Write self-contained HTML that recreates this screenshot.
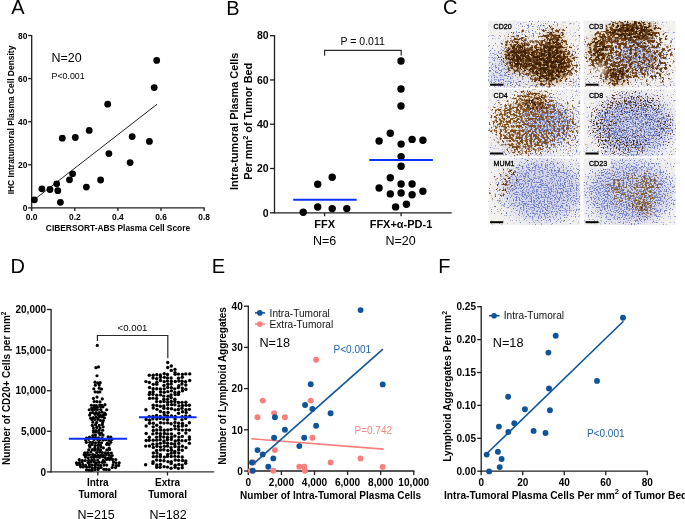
<!DOCTYPE html>
<html><head><meta charset="utf-8"><style>
html,body{margin:0;padding:0;background:#fff;}
svg{display:block;will-change:transform;font-family:"Liberation Sans", sans-serif;}
</style></head><body>
<svg width="685" height="519" viewBox="0 0 685 519">
<rect width="685" height="519" fill="#fff"/>
<defs><clipPath id="cclip"><rect x="488.3" y="20.7" width="92.0" height="66.8"/><rect x="488.3" y="89.5" width="92.0" height="66.8"/><rect x="488.3" y="158.2" width="92.0" height="66.8"/><rect x="583.7" y="20.7" width="92.0" height="66.8"/><rect x="583.7" y="89.5" width="92.0" height="66.8"/><rect x="583.7" y="158.2" width="92.0" height="66.8"/></clipPath><filter id="bf1" filterUnits="userSpaceOnUse" x="473.3" y="5.699999999999999" width="122.0" height="96.8"><feGaussianBlur stdDeviation="7"/></filter><filter id="bf2" filterUnits="userSpaceOnUse" x="473.3" y="5.699999999999999" width="122.0" height="96.8"><feGaussianBlur stdDeviation="4"/></filter><filter id="sf3" filterUnits="userSpaceOnUse" x="473.3" y="5.699999999999999" width="122.0" height="96.8" color-interpolation-filters="sRGB"><feGaussianBlur in="SourceAlpha" stdDeviation="7" result="d"/><feTurbulence type="fractalNoise" baseFrequency="0.68" numOctaves="2" seed="14" result="n"/><feColorMatrix in="n" type="matrix" values="0 0 0 0 0 0 0 0 0 0 0 0 0 0 0 1 0 0 0 0" result="na"/><feComposite in="d" in2="na" operator="arithmetic" k1="0" k2="2.800" k3="7.000" k4="-5.600" result="t"/><feFlood flood-color="#7081ca" result="f"/><feComposite in="f" in2="t" operator="in"/></filter><filter id="sf4" filterUnits="userSpaceOnUse" x="473.3" y="5.699999999999999" width="122.0" height="96.8" color-interpolation-filters="sRGB"><feGaussianBlur in="SourceAlpha" stdDeviation="6" result="d"/><feTurbulence type="fractalNoise" baseFrequency="0.37" numOctaves="2" seed="15" result="n"/><feColorMatrix in="n" type="matrix" values="0 0 0 0 0 0 0 0 0 0 0 0 0 0 0 1 0 0 0 0" result="na"/><feComposite in="d" in2="na" operator="arithmetic" k1="0" k2="2.940" k3="7.000" k4="-5.460" result="t"/><feFlood flood-color="#6c3e14" result="f"/><feComposite in="f" in2="t" operator="in"/></filter><filter id="sf5" filterUnits="userSpaceOnUse" x="473.3" y="5.699999999999999" width="122.0" height="96.8" color-interpolation-filters="sRGB"><feGaussianBlur in="SourceAlpha" stdDeviation="5" result="d"/><feTurbulence type="fractalNoise" baseFrequency="0.41" numOctaves="2" seed="16" result="n"/><feColorMatrix in="n" type="matrix" values="0 0 0 0 0 0 0 0 0 0 0 0 0 0 0 1 0 0 0 0" result="na"/><feComposite in="d" in2="na" operator="arithmetic" k1="0" k2="2.800" k3="7.000" k4="-5.600" result="t"/><feFlood flood-color="#3c2006" result="f"/><feComposite in="f" in2="t" operator="in"/></filter><filter id="bf6" filterUnits="userSpaceOnUse" x="473.3" y="5.699999999999999" width="122.0" height="96.8"><feGaussianBlur stdDeviation="2.5"/></filter><filter id="bf7" filterUnits="userSpaceOnUse" x="568.7" y="5.699999999999999" width="122.0" height="96.8"><feGaussianBlur stdDeviation="7"/></filter><filter id="bf8" filterUnits="userSpaceOnUse" x="568.7" y="5.699999999999999" width="122.0" height="96.8"><feGaussianBlur stdDeviation="4"/></filter><filter id="sf9" filterUnits="userSpaceOnUse" x="568.7" y="5.699999999999999" width="122.0" height="96.8" color-interpolation-filters="sRGB"><feGaussianBlur in="SourceAlpha" stdDeviation="7" result="d"/><feTurbulence type="fractalNoise" baseFrequency="0.68" numOctaves="2" seed="18" result="n"/><feColorMatrix in="n" type="matrix" values="0 0 0 0 0 0 0 0 0 0 0 0 0 0 0 1 0 0 0 0" result="na"/><feComposite in="d" in2="na" operator="arithmetic" k1="0" k2="2.800" k3="7.000" k4="-5.600" result="t"/><feFlood flood-color="#7081ca" result="f"/><feComposite in="f" in2="t" operator="in"/></filter><filter id="sf10" filterUnits="userSpaceOnUse" x="568.7" y="5.699999999999999" width="122.0" height="96.8" color-interpolation-filters="sRGB"><feGaussianBlur in="SourceAlpha" stdDeviation="6" result="d"/><feTurbulence type="fractalNoise" baseFrequency="0.37" numOctaves="2" seed="19" result="n"/><feColorMatrix in="n" type="matrix" values="0 0 0 0 0 0 0 0 0 0 0 0 0 0 0 1 0 0 0 0" result="na"/><feComposite in="d" in2="na" operator="arithmetic" k1="0" k2="2.940" k3="7.000" k4="-5.460" result="t"/><feFlood flood-color="#6c3e14" result="f"/><feComposite in="f" in2="t" operator="in"/></filter><filter id="sf11" filterUnits="userSpaceOnUse" x="568.7" y="5.699999999999999" width="122.0" height="96.8" color-interpolation-filters="sRGB"><feGaussianBlur in="SourceAlpha" stdDeviation="5" result="d"/><feTurbulence type="fractalNoise" baseFrequency="0.41" numOctaves="2" seed="20" result="n"/><feColorMatrix in="n" type="matrix" values="0 0 0 0 0 0 0 0 0 0 0 0 0 0 0 1 0 0 0 0" result="na"/><feComposite in="d" in2="na" operator="arithmetic" k1="0" k2="2.800" k3="7.000" k4="-5.600" result="t"/><feFlood flood-color="#3c2006" result="f"/><feComposite in="f" in2="t" operator="in"/></filter><filter id="bf12" filterUnits="userSpaceOnUse" x="568.7" y="5.699999999999999" width="122.0" height="96.8"><feGaussianBlur stdDeviation="2.5"/></filter><filter id="bf13" filterUnits="userSpaceOnUse" x="473.3" y="74.5" width="122.0" height="96.8"><feGaussianBlur stdDeviation="7"/></filter><filter id="bf14" filterUnits="userSpaceOnUse" x="473.3" y="74.5" width="122.0" height="96.8"><feGaussianBlur stdDeviation="4"/></filter><filter id="sf15" filterUnits="userSpaceOnUse" x="473.3" y="74.5" width="122.0" height="96.8" color-interpolation-filters="sRGB"><feGaussianBlur in="SourceAlpha" stdDeviation="7" result="d"/><feTurbulence type="fractalNoise" baseFrequency="0.68" numOctaves="2" seed="22" result="n"/><feColorMatrix in="n" type="matrix" values="0 0 0 0 0 0 0 0 0 0 0 0 0 0 0 1 0 0 0 0" result="na"/><feComposite in="d" in2="na" operator="arithmetic" k1="0" k2="2.800" k3="7.000" k4="-5.600" result="t"/><feFlood flood-color="#7081ca" result="f"/><feComposite in="f" in2="t" operator="in"/></filter><filter id="sf16" filterUnits="userSpaceOnUse" x="473.3" y="74.5" width="122.0" height="96.8" color-interpolation-filters="sRGB"><feGaussianBlur in="SourceAlpha" stdDeviation="6" result="d"/><feTurbulence type="fractalNoise" baseFrequency="0.43" numOctaves="2" seed="23" result="n"/><feColorMatrix in="n" type="matrix" values="0 0 0 0 0 0 0 0 0 0 0 0 0 0 0 1 0 0 0 0" result="na"/><feComposite in="d" in2="na" operator="arithmetic" k1="0" k2="2.870" k3="7.000" k4="-5.460" result="t"/><feFlood flood-color="#83511f" result="f"/><feComposite in="f" in2="t" operator="in"/></filter><filter id="sf17" filterUnits="userSpaceOnUse" x="473.3" y="74.5" width="122.0" height="96.8" color-interpolation-filters="sRGB"><feGaussianBlur in="SourceAlpha" stdDeviation="5" result="d"/><feTurbulence type="fractalNoise" baseFrequency="0.41" numOctaves="2" seed="24" result="n"/><feColorMatrix in="n" type="matrix" values="0 0 0 0 0 0 0 0 0 0 0 0 0 0 0 1 0 0 0 0" result="na"/><feComposite in="d" in2="na" operator="arithmetic" k1="0" k2="2.800" k3="7.000" k4="-5.600" result="t"/><feFlood flood-color="#3c2006" result="f"/><feComposite in="f" in2="t" operator="in"/></filter><filter id="bf18" filterUnits="userSpaceOnUse" x="473.3" y="74.5" width="122.0" height="96.8"><feGaussianBlur stdDeviation="2.5"/></filter><filter id="bf19" filterUnits="userSpaceOnUse" x="568.7" y="74.5" width="122.0" height="96.8"><feGaussianBlur stdDeviation="7"/></filter><filter id="bf20" filterUnits="userSpaceOnUse" x="568.7" y="74.5" width="122.0" height="96.8"><feGaussianBlur stdDeviation="4"/></filter><filter id="sf21" filterUnits="userSpaceOnUse" x="568.7" y="74.5" width="122.0" height="96.8" color-interpolation-filters="sRGB"><feGaussianBlur in="SourceAlpha" stdDeviation="7" result="d"/><feTurbulence type="fractalNoise" baseFrequency="0.68" numOctaves="2" seed="26" result="n"/><feColorMatrix in="n" type="matrix" values="0 0 0 0 0 0 0 0 0 0 0 0 0 0 0 1 0 0 0 0" result="na"/><feComposite in="d" in2="na" operator="arithmetic" k1="0" k2="2.800" k3="7.000" k4="-5.600" result="t"/><feFlood flood-color="#7081ca" result="f"/><feComposite in="f" in2="t" operator="in"/></filter><filter id="sf22" filterUnits="userSpaceOnUse" x="568.7" y="74.5" width="122.0" height="96.8" color-interpolation-filters="sRGB"><feGaussianBlur in="SourceAlpha" stdDeviation="5" result="d"/><feTurbulence type="fractalNoise" baseFrequency="0.57" numOctaves="2" seed="28" result="n"/><feColorMatrix in="n" type="matrix" values="0 0 0 0 0 0 0 0 0 0 0 0 0 0 0 1 0 0 0 0" result="na"/><feComposite in="d" in2="na" operator="arithmetic" k1="0" k2="2.800" k3="7.000" k4="-5.600" result="t"/><feFlood flood-color="#553016" result="f"/><feComposite in="f" in2="t" operator="in"/></filter><filter id="bf23" filterUnits="userSpaceOnUse" x="568.7" y="74.5" width="122.0" height="96.8"><feGaussianBlur stdDeviation="2.5"/></filter><filter id="bf24" filterUnits="userSpaceOnUse" x="473.3" y="143.2" width="122.0" height="96.8"><feGaussianBlur stdDeviation="7"/></filter><filter id="bf25" filterUnits="userSpaceOnUse" x="473.3" y="143.2" width="122.0" height="96.8"><feGaussianBlur stdDeviation="4"/></filter><filter id="sf26" filterUnits="userSpaceOnUse" x="473.3" y="143.2" width="122.0" height="96.8" color-interpolation-filters="sRGB"><feGaussianBlur in="SourceAlpha" stdDeviation="7" result="d"/><feTurbulence type="fractalNoise" baseFrequency="0.68" numOctaves="2" seed="30" result="n"/><feColorMatrix in="n" type="matrix" values="0 0 0 0 0 0 0 0 0 0 0 0 0 0 0 1 0 0 0 0" result="na"/><feComposite in="d" in2="na" operator="arithmetic" k1="0" k2="2.800" k3="7.000" k4="-5.600" result="t"/><feFlood flood-color="#7081ca" result="f"/><feComposite in="f" in2="t" operator="in"/></filter><filter id="sf27" filterUnits="userSpaceOnUse" x="473.3" y="143.2" width="122.0" height="96.8" color-interpolation-filters="sRGB"><feGaussianBlur in="SourceAlpha" stdDeviation="6" result="d"/><feTurbulence type="fractalNoise" baseFrequency="0.37" numOctaves="2" seed="31" result="n"/><feColorMatrix in="n" type="matrix" values="0 0 0 0 0 0 0 0 0 0 0 0 0 0 0 1 0 0 0 0" result="na"/><feComposite in="d" in2="na" operator="arithmetic" k1="0" k2="2.940" k3="7.000" k4="-5.460" result="t"/><feFlood flood-color="#6c3e14" result="f"/><feComposite in="f" in2="t" operator="in"/></filter><filter id="sf28" filterUnits="userSpaceOnUse" x="473.3" y="143.2" width="122.0" height="96.8" color-interpolation-filters="sRGB"><feGaussianBlur in="SourceAlpha" stdDeviation="5" result="d"/><feTurbulence type="fractalNoise" baseFrequency="0.41" numOctaves="2" seed="32" result="n"/><feColorMatrix in="n" type="matrix" values="0 0 0 0 0 0 0 0 0 0 0 0 0 0 0 1 0 0 0 0" result="na"/><feComposite in="d" in2="na" operator="arithmetic" k1="0" k2="2.800" k3="7.000" k4="-5.600" result="t"/><feFlood flood-color="#3c2006" result="f"/><feComposite in="f" in2="t" operator="in"/></filter><filter id="bf29" filterUnits="userSpaceOnUse" x="568.7" y="143.2" width="122.0" height="96.8"><feGaussianBlur stdDeviation="7"/></filter><filter id="bf30" filterUnits="userSpaceOnUse" x="568.7" y="143.2" width="122.0" height="96.8"><feGaussianBlur stdDeviation="4"/></filter><filter id="sf31" filterUnits="userSpaceOnUse" x="568.7" y="143.2" width="122.0" height="96.8" color-interpolation-filters="sRGB"><feGaussianBlur in="SourceAlpha" stdDeviation="7" result="d"/><feTurbulence type="fractalNoise" baseFrequency="0.68" numOctaves="2" seed="34" result="n"/><feColorMatrix in="n" type="matrix" values="0 0 0 0 0 0 0 0 0 0 0 0 0 0 0 1 0 0 0 0" result="na"/><feComposite in="d" in2="na" operator="arithmetic" k1="0" k2="2.800" k3="7.000" k4="-5.600" result="t"/><feFlood flood-color="#7081ca" result="f"/><feComposite in="f" in2="t" operator="in"/></filter><filter id="sf32" filterUnits="userSpaceOnUse" x="568.7" y="143.2" width="122.0" height="96.8" color-interpolation-filters="sRGB"><feGaussianBlur in="SourceAlpha" stdDeviation="6" result="d"/><feTurbulence type="fractalNoise" baseFrequency="0.44" numOctaves="2" seed="35" result="n"/><feColorMatrix in="n" type="matrix" values="0 0 0 0 0 0 0 0 0 0 0 0 0 0 0 1 0 0 0 0" result="na"/><feComposite in="d" in2="na" operator="arithmetic" k1="0" k2="2.800" k3="7.000" k4="-5.460" result="t"/><feFlood flood-color="#866032" result="f"/><feComposite in="f" in2="t" operator="in"/></filter><filter id="sf33" filterUnits="userSpaceOnUse" x="568.7" y="143.2" width="122.0" height="96.8" color-interpolation-filters="sRGB"><feGaussianBlur in="SourceAlpha" stdDeviation="5" result="d"/><feTurbulence type="fractalNoise" baseFrequency="0.41" numOctaves="2" seed="36" result="n"/><feColorMatrix in="n" type="matrix" values="0 0 0 0 0 0 0 0 0 0 0 0 0 0 0 1 0 0 0 0" result="na"/><feComposite in="d" in2="na" operator="arithmetic" k1="0" k2="2.800" k3="7.000" k4="-5.600" result="t"/><feFlood flood-color="#3c2006" result="f"/><feComposite in="f" in2="t" operator="in"/></filter></defs>
<g clip-path="url(#cclip)">
<rect x="488.3" y="20.7" width="92.0" height="66.8" fill="#f4f2ef"/>
<g filter="url(#bf1)" opacity="1.0"><ellipse cx="498.3" cy="70.7" rx="12" ry="16" fill="#bcc0e4" fill-opacity="0.4"/><ellipse cx="516.3" cy="82.7" rx="18" ry="6" fill="#bcc0e4" fill-opacity="0.35"/></g>
<g filter="url(#bf2)" opacity="0.75"><ellipse cx="518.3" cy="56.7" rx="13" ry="15" fill="#c49a62" fill-opacity="1.0"/><ellipse cx="550.3" cy="62.7" rx="20" ry="20" fill="#c49a62" fill-opacity="1.0"/><ellipse cx="554.3" cy="37.7" rx="9" ry="7" fill="#c49a62" fill-opacity="0.8"/><ellipse cx="541.3" cy="77.7" rx="9" ry="6" fill="#c49a62" fill-opacity="0.8"/><ellipse cx="533.3" cy="62.7" rx="6" ry="12" fill="#c49a62" fill-opacity="0.8"/></g>
<g filter="url(#sf3)"><rect x="488.3" y="20.7" width="92.0" height="66.8" fill="#000" fill-opacity="0"/><rect x="473.3" y="5.7" width="122" height="97" fill="#000" fill-opacity="0.38"/><ellipse cx="498.3" cy="65.7" rx="14" ry="22" fill="#000" fill-opacity="0.5"/><ellipse cx="510.3" cy="80.7" rx="20" ry="8" fill="#000" fill-opacity="0.5"/><ellipse cx="533.3" cy="28.7" rx="25" ry="8" fill="#000" fill-opacity="0.4"/></g>
<g filter="url(#sf4)"><rect x="488.3" y="20.7" width="92.0" height="66.8" fill="#000" fill-opacity="0"/><ellipse cx="518.3" cy="55.7" rx="17" ry="20" fill="#000" fill-opacity="1.0"/><ellipse cx="550.3" cy="60.7" rx="25" ry="25" fill="#000" fill-opacity="1.0"/><ellipse cx="553.3" cy="34.7" rx="14" ry="11" fill="#000" fill-opacity="0.9"/><ellipse cx="542.3" cy="78.7" rx="14" ry="9" fill="#000" fill-opacity="0.9"/><ellipse cx="533.3" cy="60.7" rx="10" ry="18" fill="#000" fill-opacity="1.0"/><ellipse cx="574.3" cy="65.7" rx="7" ry="16" fill="#000" fill-opacity="0.6"/><ellipse cx="518.3" cy="36.7" rx="14" ry="8" fill="#000" fill-opacity="0.55"/></g>
<g filter="url(#sf5)"><rect x="488.3" y="20.7" width="92.0" height="66.8" fill="#000" fill-opacity="0"/><ellipse cx="518.3" cy="56.7" rx="13" ry="15" fill="#000" fill-opacity="1.0"/><ellipse cx="550.3" cy="62.7" rx="20" ry="20" fill="#000" fill-opacity="1.0"/><ellipse cx="554.3" cy="37.7" rx="9" ry="7" fill="#000" fill-opacity="0.8"/><ellipse cx="541.3" cy="77.7" rx="9" ry="6" fill="#000" fill-opacity="0.8"/><ellipse cx="533.3" cy="62.7" rx="6" ry="12" fill="#000" fill-opacity="0.8"/></g>
<g filter="url(#bf6)" opacity="1.0"><ellipse cx="534.3" cy="37.7" rx="5" ry="4" fill="#f4f2ef" fill-opacity="0.5"/></g>
<rect x="583.7" y="20.7" width="92.0" height="66.8" fill="#f4f2ef"/>
<g filter="url(#bf7)" opacity="1.0"><ellipse cx="635.7" cy="56.7" rx="24" ry="18" fill="#bcc0e4" fill-opacity="0.45"/></g>
<g filter="url(#bf8)" opacity="0.6"><ellipse cx="631.7" cy="30.7" rx="26" ry="10" fill="#c49a62" fill-opacity="1.0"/><ellipse cx="616.7" cy="75.7" rx="13" ry="9" fill="#c49a62" fill-opacity="0.95"/><ellipse cx="598.7" cy="50.7" rx="10" ry="17" fill="#c49a62" fill-opacity="0.85"/><ellipse cx="638.7" cy="56.7" rx="20" ry="16" fill="#c49a62" fill-opacity="0.42"/></g>
<g filter="url(#sf9)"><rect x="583.7" y="20.7" width="92.0" height="66.8" fill="#000" fill-opacity="0"/><rect x="568.7" y="5.7" width="122" height="97" fill="#000" fill-opacity="0.35"/><ellipse cx="635.7" cy="56.7" rx="26" ry="19" fill="#000" fill-opacity="0.8"/></g>
<g filter="url(#sf10)"><rect x="583.7" y="20.7" width="92.0" height="66.8" fill="#000" fill-opacity="0"/><ellipse cx="629.7" cy="31.7" rx="34" ry="13" fill="#000" fill-opacity="1.0"/><ellipse cx="599.7" cy="52.7" rx="15" ry="23" fill="#000" fill-opacity="0.95"/><ellipse cx="616.7" cy="74.7" rx="17" ry="12" fill="#000" fill-opacity="1.0"/><ellipse cx="635.7" cy="56.7" rx="28" ry="20" fill="#000" fill-opacity="0.72"/><ellipse cx="665.7" cy="58.7" rx="11" ry="24" fill="#000" fill-opacity="0.65"/><ellipse cx="651.7" cy="78.7" rx="16" ry="8" fill="#000" fill-opacity="0.65"/></g>
<g filter="url(#sf11)"><rect x="583.7" y="20.7" width="92.0" height="66.8" fill="#000" fill-opacity="0"/><ellipse cx="631.7" cy="30.7" rx="26" ry="10" fill="#000" fill-opacity="1.0"/><ellipse cx="616.7" cy="75.7" rx="13" ry="9" fill="#000" fill-opacity="0.95"/><ellipse cx="598.7" cy="50.7" rx="10" ry="17" fill="#000" fill-opacity="0.85"/><ellipse cx="638.7" cy="56.7" rx="20" ry="16" fill="#000" fill-opacity="0.42"/></g>
<g filter="url(#bf12)" opacity="1.0"><ellipse cx="600.7" cy="69.7" rx="5" ry="5" fill="#f4f2ef" fill-opacity="0.85"/><ellipse cx="671.7" cy="25.7" rx="8" ry="6" fill="#f4f2ef" fill-opacity="0.7"/></g>
<rect x="488.3" y="89.5" width="92.0" height="66.8" fill="#f4f2ef"/>
<g filter="url(#bf13)" opacity="1.0"><ellipse cx="546.3" cy="124.5" rx="26" ry="22" fill="#bcc0e4" fill-opacity="0.55"/><ellipse cx="503.3" cy="144.5" rx="12" ry="8" fill="#bcc0e4" fill-opacity="0.4"/></g>
<g filter="url(#bf14)" opacity="0.5"><ellipse cx="534.3" cy="102.5" rx="14" ry="10" fill="#c49a62" fill-opacity="0.8"/><ellipse cx="522.3" cy="145.5" rx="12" ry="7" fill="#c49a62" fill-opacity="0.5"/><ellipse cx="504.3" cy="123.5" rx="9" ry="12" fill="#c49a62" fill-opacity="0.3"/></g>
<g filter="url(#sf15)"><rect x="488.3" y="89.5" width="92.0" height="66.8" fill="#000" fill-opacity="0"/><rect x="473.3" y="74.5" width="122" height="97" fill="#000" fill-opacity="0.38"/><ellipse cx="546.3" cy="124.5" rx="28" ry="24" fill="#000" fill-opacity="0.85"/></g>
<g filter="url(#sf16)"><rect x="488.3" y="89.5" width="92.0" height="66.8" fill="#000" fill-opacity="0"/><ellipse cx="532.3" cy="103.5" rx="24" ry="16" fill="#000" fill-opacity="0.95"/><ellipse cx="506.3" cy="121.5" rx="19" ry="21" fill="#000" fill-opacity="0.85"/><ellipse cx="526.3" cy="143.5" rx="26" ry="14" fill="#000" fill-opacity="0.9"/><ellipse cx="548.3" cy="125.5" rx="26" ry="24" fill="#000" fill-opacity="0.62"/><ellipse cx="572.3" cy="123.5" rx="10" ry="26" fill="#000" fill-opacity="0.5"/></g>
<g filter="url(#sf17)"><rect x="488.3" y="89.5" width="92.0" height="66.8" fill="#000" fill-opacity="0"/><ellipse cx="534.3" cy="102.5" rx="14" ry="10" fill="#000" fill-opacity="0.8"/><ellipse cx="522.3" cy="145.5" rx="12" ry="7" fill="#000" fill-opacity="0.5"/><ellipse cx="504.3" cy="123.5" rx="9" ry="12" fill="#000" fill-opacity="0.3"/></g>
<g filter="url(#bf18)" opacity="1.0"><ellipse cx="494.3" cy="147.5" rx="7" ry="7" fill="#f4f2ef" fill-opacity="0.6"/></g>
<rect x="583.7" y="89.5" width="92.0" height="66.8" fill="#f4f2ef"/>
<g filter="url(#bf19)" opacity="1.0"><ellipse cx="633.7" cy="125.5" rx="40" ry="30" fill="#bcc0e4" fill-opacity="0.6"/></g>
<g filter="url(#bf20)" opacity="0.0"><ellipse cx="633.7" cy="101.5" rx="32" ry="11" fill="#c49a62" fill-opacity="0.7"/><ellipse cx="599.7" cy="125.5" rx="15" ry="22" fill="#c49a62" fill-opacity="0.64"/><ellipse cx="623.7" cy="147.5" rx="28" ry="10" fill="#c49a62" fill-opacity="0.64"/><ellipse cx="635.7" cy="127.5" rx="28" ry="21" fill="#c49a62" fill-opacity="0.4"/><ellipse cx="667.7" cy="129.5" rx="10" ry="20" fill="#c49a62" fill-opacity="0.52"/></g>
<g filter="url(#sf21)"><rect x="583.7" y="89.5" width="92.0" height="66.8" fill="#000" fill-opacity="0"/><rect x="568.7" y="74.5" width="122" height="97" fill="#000" fill-opacity="0.35"/><ellipse cx="633.7" cy="125.5" rx="40" ry="30" fill="#000" fill-opacity="0.8"/></g>

<g filter="url(#sf22)"><rect x="583.7" y="89.5" width="92.0" height="66.8" fill="#000" fill-opacity="0"/><ellipse cx="633.7" cy="101.5" rx="32" ry="11" fill="#000" fill-opacity="0.7"/><ellipse cx="599.7" cy="125.5" rx="15" ry="22" fill="#000" fill-opacity="0.64"/><ellipse cx="623.7" cy="147.5" rx="28" ry="10" fill="#000" fill-opacity="0.64"/><ellipse cx="635.7" cy="127.5" rx="28" ry="21" fill="#000" fill-opacity="0.4"/><ellipse cx="667.7" cy="129.5" rx="10" ry="20" fill="#000" fill-opacity="0.52"/></g>
<g filter="url(#bf23)" opacity="1.0"><ellipse cx="589.7" cy="147.5" rx="7" ry="7" fill="#f4f2ef" fill-opacity="0.6"/></g>
<rect x="488.3" y="158.2" width="92.0" height="66.8" fill="#f4f2ef"/>
<g filter="url(#bf24)" opacity="1.0"><ellipse cx="542.3" cy="190.2" rx="40" ry="32" fill="#bcc0e4" fill-opacity="0.55"/></g>
<g filter="url(#bf25)" opacity="0.3"><ellipse cx="508.3" cy="178.2" rx="8" ry="10" fill="#c49a62" fill-opacity="0.35"/></g>
<g filter="url(#sf26)"><rect x="488.3" y="158.2" width="92.0" height="66.8" fill="#000" fill-opacity="0"/><rect x="473.3" y="143.2" width="122" height="97" fill="#000" fill-opacity="0.36"/><ellipse cx="542.3" cy="190.2" rx="40" ry="32" fill="#000" fill-opacity="0.7"/></g>
<g filter="url(#sf27)"><rect x="488.3" y="158.2" width="92.0" height="66.8" fill="#000" fill-opacity="0"/><ellipse cx="508.3" cy="180.2" rx="12" ry="16" fill="#000" fill-opacity="0.6"/><ellipse cx="498.3" cy="198.2" rx="7" ry="14" fill="#000" fill-opacity="0.5"/><ellipse cx="518.3" cy="166.2" rx="12" ry="6" fill="#000" fill-opacity="0.5"/></g>
<g filter="url(#sf28)"><rect x="488.3" y="158.2" width="92.0" height="66.8" fill="#000" fill-opacity="0"/><ellipse cx="508.3" cy="178.2" rx="8" ry="10" fill="#000" fill-opacity="0.35"/></g>

<rect x="583.7" y="158.2" width="92.0" height="66.8" fill="#f4f2ef"/>
<g filter="url(#bf29)" opacity="1.0"><ellipse cx="629.7" cy="192.2" rx="44" ry="32" fill="#bcc0e4" fill-opacity="0.55"/></g>
<g filter="url(#bf30)" opacity="0.45"><ellipse cx="642.7" cy="208.2" rx="9" ry="8" fill="#c49a62" fill-opacity="0.6"/></g>
<g filter="url(#sf31)"><rect x="583.7" y="158.2" width="92.0" height="66.8" fill="#000" fill-opacity="0"/><rect x="568.7" y="143.2" width="122" height="97" fill="#000" fill-opacity="0.4"/><ellipse cx="629.7" cy="192.2" rx="44" ry="32" fill="#000" fill-opacity="0.7"/></g>
<g filter="url(#sf32)"><rect x="583.7" y="158.2" width="92.0" height="66.8" fill="#000" fill-opacity="0"/><ellipse cx="631.7" cy="190.2" rx="28" ry="20" fill="#000" fill-opacity="0.62"/><ellipse cx="642.7" cy="207.2" rx="12" ry="10" fill="#000" fill-opacity="1.0"/><ellipse cx="649.7" cy="182.2" rx="12" ry="12" fill="#000" fill-opacity="0.78"/><ellipse cx="613.7" cy="188.2" rx="10" ry="12" fill="#000" fill-opacity="0.5"/></g>
<g filter="url(#sf33)"><rect x="583.7" y="158.2" width="92.0" height="66.8" fill="#000" fill-opacity="0"/><ellipse cx="642.7" cy="208.2" rx="9" ry="8" fill="#000" fill-opacity="0.6"/></g>

<rect x="488.0" y="20.7" width="27.3" height="10.4" fill="#efefef"/>
<text x="493.6" y="28.799999999999997" font-size="7.1" fill="#000" stroke="#000" stroke-width="0.3">CD20</text>
<rect x="490.1" y="83.7" width="13.1" height="2.0" fill="#000"/>
<rect x="583.4000000000001" y="20.7" width="22.3" height="10.4" fill="#efefef"/>
<text x="589.0" y="28.799999999999997" font-size="7.1" fill="#000" stroke="#000" stroke-width="0.3">CD3</text>
<rect x="585.5" y="83.7" width="13.1" height="2.0" fill="#000"/>
<rect x="488.0" y="89.5" width="22.3" height="10.4" fill="#efefef"/>
<text x="493.6" y="97.6" font-size="7.1" fill="#000" stroke="#000" stroke-width="0.3">CD4</text>
<rect x="490.1" y="152.5" width="13.1" height="2.0" fill="#000"/>
<rect x="583.4000000000001" y="89.5" width="22.3" height="10.4" fill="#efefef"/>
<text x="589.0" y="97.6" font-size="7.1" fill="#000" stroke="#000" stroke-width="0.3">CD8</text>
<rect x="585.5" y="152.5" width="13.1" height="2.0" fill="#000"/>
<rect x="488.0" y="158.2" width="26.5" height="10.4" fill="#efefef"/>
<text x="493.6" y="166.29999999999998" font-size="7.1" fill="#000" stroke="#000" stroke-width="0.3">MUM1</text>
<rect x="490.1" y="221.2" width="13.1" height="2.0" fill="#000"/>
<rect x="583.4000000000001" y="158.2" width="27.3" height="10.4" fill="#efefef"/>
<text x="589.0" y="166.29999999999998" font-size="7.1" fill="#000" stroke="#000" stroke-width="0.3">CD23</text>
<rect x="585.5" y="221.2" width="13.1" height="2.0" fill="#000"/>
</g>
<text x="11.30" y="14.00" font-size="20" font-weight="normal" text-anchor="start" fill="#000" >A</text>
<text x="226.30" y="15.00" font-size="20" font-weight="normal" text-anchor="start" fill="#000" >B</text>
<text x="443.00" y="14.30" font-size="20" font-weight="normal" text-anchor="start" fill="#000" >C</text>
<text x="10.60" y="272.80" font-size="20" font-weight="normal" text-anchor="start" fill="#000" >D</text>
<text x="211.70" y="272.80" font-size="20" font-weight="normal" text-anchor="start" fill="#000" >E</text>
<text x="438.20" y="272.80" font-size="20" font-weight="normal" text-anchor="start" fill="#000" >F</text>
<line x1="31.70" y1="34.90" x2="31.70" y2="208.50" stroke="#1e1e1e" stroke-width="1.3"/>
<line x1="31.10" y1="207.90" x2="204.70" y2="207.90" stroke="#1e1e1e" stroke-width="1.3"/>
<line x1="28.10" y1="207.90" x2="31.70" y2="207.90" stroke="#1e1e1e" stroke-width="1.3"/>
<text x="27.30" y="210.90" font-size="8.4" font-weight="bold" text-anchor="end" fill="#000" >0</text>
<line x1="28.10" y1="164.80" x2="31.70" y2="164.80" stroke="#1e1e1e" stroke-width="1.3"/>
<text x="27.30" y="167.80" font-size="8.4" font-weight="bold" text-anchor="end" fill="#000" >20</text>
<line x1="28.10" y1="121.70" x2="31.70" y2="121.70" stroke="#1e1e1e" stroke-width="1.3"/>
<text x="27.30" y="124.70" font-size="8.4" font-weight="bold" text-anchor="end" fill="#000" >40</text>
<line x1="28.10" y1="78.60" x2="31.70" y2="78.60" stroke="#1e1e1e" stroke-width="1.3"/>
<text x="27.30" y="81.60" font-size="8.4" font-weight="bold" text-anchor="end" fill="#000" >60</text>
<line x1="28.10" y1="35.50" x2="31.70" y2="35.50" stroke="#1e1e1e" stroke-width="1.3"/>
<text x="27.30" y="38.50" font-size="8.4" font-weight="bold" text-anchor="end" fill="#000" >80</text>
<line x1="31.70" y1="207.90" x2="31.70" y2="211.10" stroke="#1e1e1e" stroke-width="1.3"/>
<text x="31.70" y="219.80" font-size="8.4" font-weight="bold" text-anchor="middle" fill="#000" >0.0</text>
<line x1="74.80" y1="207.90" x2="74.80" y2="211.10" stroke="#1e1e1e" stroke-width="1.3"/>
<text x="74.80" y="219.80" font-size="8.4" font-weight="bold" text-anchor="middle" fill="#000" >0.2</text>
<line x1="117.90" y1="207.90" x2="117.90" y2="211.10" stroke="#1e1e1e" stroke-width="1.3"/>
<text x="117.90" y="219.80" font-size="8.4" font-weight="bold" text-anchor="middle" fill="#000" >0.4</text>
<line x1="161.00" y1="207.90" x2="161.00" y2="211.10" stroke="#1e1e1e" stroke-width="1.3"/>
<text x="161.00" y="219.80" font-size="8.4" font-weight="bold" text-anchor="middle" fill="#000" >0.6</text>
<line x1="204.10" y1="207.90" x2="204.10" y2="211.10" stroke="#1e1e1e" stroke-width="1.3"/>
<text x="204.10" y="219.80" font-size="8.4" font-weight="bold" text-anchor="middle" fill="#000" >0.8</text>
<text x="118.00" y="231.20" font-size="8.4" font-weight="bold" text-anchor="middle" fill="#000" >CIBERSORT-ABS Plasma Cell Score</text>
<text transform="translate(13.80,120.00) rotate(-90)" x="0" y="0" font-size="8.45" font-weight="bold" text-anchor="middle" fill="#000">IHC Intratumoral Plasma Cell Density</text>
<text x="51.50" y="62.40" font-size="12.5" font-weight="normal" text-anchor="start" fill="#000" >N=20</text>
<text x="51.60" y="78.80" font-size="8.8" font-weight="normal" text-anchor="start" fill="#000" >P&lt;0.001</text>
<line x1="36.90" y1="197.60" x2="157.10" y2="104.20" stroke="#222" stroke-width="1.0"/>
<circle cx="34.40" cy="199.80" r="3.4" fill="#000"/>
<circle cx="41.90" cy="188.80" r="3.4" fill="#000"/>
<circle cx="50.00" cy="189.50" r="3.4" fill="#000"/>
<circle cx="56.70" cy="183.80" r="3.4" fill="#000"/>
<circle cx="57.80" cy="190.70" r="3.4" fill="#000"/>
<circle cx="60.40" cy="202.30" r="3.4" fill="#000"/>
<circle cx="69.50" cy="179.80" r="3.4" fill="#000"/>
<circle cx="72.60" cy="173.80" r="3.4" fill="#000"/>
<circle cx="86.40" cy="187.10" r="3.4" fill="#000"/>
<circle cx="100.60" cy="180.00" r="3.4" fill="#000"/>
<circle cx="108.90" cy="153.60" r="3.4" fill="#000"/>
<circle cx="130.10" cy="162.60" r="3.4" fill="#000"/>
<circle cx="62.30" cy="138.20" r="3.4" fill="#000"/>
<circle cx="75.30" cy="137.50" r="3.4" fill="#000"/>
<circle cx="89.20" cy="130.40" r="3.4" fill="#000"/>
<circle cx="107.70" cy="104.20" r="3.4" fill="#000"/>
<circle cx="132.20" cy="136.60" r="3.4" fill="#000"/>
<circle cx="149.40" cy="141.40" r="3.4" fill="#000"/>
<circle cx="154.20" cy="87.60" r="3.4" fill="#000"/>
<circle cx="156.70" cy="60.40" r="3.4" fill="#000"/>
<line x1="274.50" y1="35.08" x2="274.50" y2="213.40" stroke="#1e1e1e" stroke-width="1.3"/>
<line x1="273.90" y1="212.80" x2="451.70" y2="212.80" stroke="#1e1e1e" stroke-width="1.3"/>
<line x1="270.00" y1="212.80" x2="274.50" y2="212.80" stroke="#1e1e1e" stroke-width="1.3"/>
<text x="268.70" y="216.60" font-size="10.5" font-weight="bold" text-anchor="end" fill="#000" >0</text>
<line x1="270.00" y1="168.52" x2="274.50" y2="168.52" stroke="#1e1e1e" stroke-width="1.3"/>
<text x="268.70" y="172.32" font-size="10.5" font-weight="bold" text-anchor="end" fill="#000" >20</text>
<line x1="270.00" y1="124.24" x2="274.50" y2="124.24" stroke="#1e1e1e" stroke-width="1.3"/>
<text x="268.70" y="128.04" font-size="10.5" font-weight="bold" text-anchor="end" fill="#000" >40</text>
<line x1="270.00" y1="79.96" x2="274.50" y2="79.96" stroke="#1e1e1e" stroke-width="1.3"/>
<text x="268.70" y="83.76" font-size="10.5" font-weight="bold" text-anchor="end" fill="#000" >60</text>
<line x1="270.00" y1="35.68" x2="274.50" y2="35.68" stroke="#1e1e1e" stroke-width="1.3"/>
<text x="268.70" y="39.48" font-size="10.5" font-weight="bold" text-anchor="end" fill="#000" >80</text>
<line x1="324.60" y1="212.80" x2="324.60" y2="216.30" stroke="#1e1e1e" stroke-width="1.3"/>
<line x1="401.10" y1="212.80" x2="401.10" y2="216.30" stroke="#1e1e1e" stroke-width="1.3"/>
<text x="324.60" y="228.40" font-size="11" font-weight="bold" text-anchor="middle" fill="#000" >FFX</text>
<text x="401.00" y="228.40" font-size="11" font-weight="bold" text-anchor="middle" fill="#000" >FFX+α-PD-1</text>
<text x="324.60" y="245.20" font-size="12.5" font-weight="normal" text-anchor="middle" fill="#000" >N=6</text>
<text x="400.60" y="245.20" font-size="12.5" font-weight="normal" text-anchor="middle" fill="#000" >N=20</text>
<text transform="translate(237.80,121.30) rotate(-90)" x="0" y="0" font-size="10.9" font-weight="bold" text-anchor="middle" fill="#000">Intra-tumoral Plasma Cells</text>
<text transform="translate(252.10,121.30) rotate(-90)" x="0" y="0" font-size="10.9" font-weight="bold" text-anchor="middle" fill="#000">Per mm<tspan font-size="7.3" dy="-4.2">2</tspan><tspan dy="4.2"> of Tumor Bed</tspan></text>
<polyline points="324.60,55.80 324.60,50.40 401.20,50.40 401.20,55.60" fill="none" stroke="#2a2a2a" stroke-width="1.2"/>
<text x="362.70" y="45.00" font-size="10.5" font-weight="normal" text-anchor="middle" fill="#000" >P = 0.011</text>
<circle cx="303.20" cy="212.30" r="3.7" fill="#000"/>
<circle cx="317.70" cy="207.00" r="3.7" fill="#000"/>
<circle cx="332.20" cy="208.60" r="3.7" fill="#000"/>
<circle cx="346.80" cy="208.60" r="3.7" fill="#000"/>
<circle cx="317.70" cy="184.20" r="3.7" fill="#000"/>
<circle cx="332.20" cy="177.20" r="3.7" fill="#000"/>
<circle cx="401.00" cy="61.00" r="3.7" fill="#000"/>
<circle cx="401.00" cy="89.00" r="3.7" fill="#000"/>
<circle cx="401.00" cy="106.00" r="3.7" fill="#000"/>
<circle cx="390.30" cy="133.20" r="3.7" fill="#000"/>
<circle cx="379.10" cy="141.00" r="3.7" fill="#000"/>
<circle cx="401.10" cy="144.10" r="3.7" fill="#000"/>
<circle cx="412.10" cy="139.40" r="3.7" fill="#000"/>
<circle cx="422.90" cy="140.30" r="3.7" fill="#000"/>
<circle cx="401.10" cy="156.60" r="3.7" fill="#000"/>
<circle cx="401.10" cy="166.30" r="3.7" fill="#000"/>
<circle cx="390.30" cy="177.80" r="3.7" fill="#000"/>
<circle cx="379.10" cy="188.00" r="3.7" fill="#000"/>
<circle cx="401.10" cy="184.00" r="3.7" fill="#000"/>
<circle cx="412.10" cy="184.00" r="3.7" fill="#000"/>
<circle cx="390.30" cy="193.90" r="3.7" fill="#000"/>
<circle cx="401.10" cy="193.00" r="3.7" fill="#000"/>
<circle cx="412.10" cy="194.80" r="3.7" fill="#000"/>
<circle cx="422.90" cy="191.20" r="3.7" fill="#000"/>
<circle cx="395.60" cy="206.90" r="3.7" fill="#000"/>
<circle cx="406.40" cy="204.30" r="3.7" fill="#000"/>
<line x1="293.20" y1="199.80" x2="356.70" y2="199.80" stroke="#0c30ff" stroke-width="2.0"/>
<line x1="369.30" y1="159.90" x2="432.90" y2="159.90" stroke="#0c30ff" stroke-width="2.0"/>
<line x1="51.10" y1="308.90" x2="51.10" y2="472.50" stroke="#1e1e1e" stroke-width="1.3"/>
<line x1="50.50" y1="471.90" x2="214.20" y2="471.90" stroke="#333" stroke-width="1.3"/>
<line x1="46.90" y1="471.90" x2="51.10" y2="471.90" stroke="#1e1e1e" stroke-width="1.3"/>
<text x="46.10" y="475.50" font-size="10" font-weight="bold" text-anchor="end" fill="#000" >0</text>
<line x1="46.90" y1="431.30" x2="51.10" y2="431.30" stroke="#1e1e1e" stroke-width="1.3"/>
<text x="46.10" y="434.90" font-size="10" font-weight="bold" text-anchor="end" fill="#000" >5,000</text>
<line x1="46.90" y1="390.70" x2="51.10" y2="390.70" stroke="#1e1e1e" stroke-width="1.3"/>
<text x="46.10" y="394.30" font-size="10" font-weight="bold" text-anchor="end" fill="#000" >10,000</text>
<line x1="46.90" y1="350.10" x2="51.10" y2="350.10" stroke="#1e1e1e" stroke-width="1.3"/>
<text x="46.10" y="353.70" font-size="10" font-weight="bold" text-anchor="end" fill="#000" >15,000</text>
<line x1="46.90" y1="309.50" x2="51.10" y2="309.50" stroke="#1e1e1e" stroke-width="1.3"/>
<text x="46.10" y="313.10" font-size="10" font-weight="bold" text-anchor="end" fill="#000" >20,000</text>
<line x1="97.80" y1="471.90" x2="97.80" y2="475.50" stroke="#1e1e1e" stroke-width="1.3"/>
<line x1="167.50" y1="471.90" x2="167.50" y2="475.50" stroke="#1e1e1e" stroke-width="1.3"/>
<text x="97.80" y="486.30" font-size="10" font-weight="bold" text-anchor="middle" fill="#000" >Intra</text>
<text x="97.80" y="497.90" font-size="10" font-weight="bold" text-anchor="middle" fill="#000" >Tumoral</text>
<text x="167.60" y="486.30" font-size="10" font-weight="bold" text-anchor="middle" fill="#000" >Extra</text>
<text x="167.60" y="497.90" font-size="10" font-weight="bold" text-anchor="middle" fill="#000" >Tumoral</text>
<text x="96.20" y="519.00" font-size="12.5" font-weight="normal" text-anchor="middle" fill="#000" >N=215</text>
<text x="168.00" y="519.00" font-size="12.5" font-weight="normal" text-anchor="middle" fill="#000" >N=182</text>
<text transform="translate(9.60,388.20) rotate(-90)" x="0" y="0" font-size="10" font-weight="bold" text-anchor="middle" fill="#000">Number of CD20+ Cells per mm<tspan font-size="6.5" dy="-4">2</tspan></text>
<polyline points="97.40,340.90 97.40,335.50 167.80,335.50 167.80,358.20" fill="none" stroke="#2a2a2a" stroke-width="1.2"/>
<text x="132.50" y="330.80" font-size="9.7" font-weight="normal" text-anchor="middle" fill="#000" >&lt;0.001</text>
<circle cx="97.29" cy="345.46" r="1.6" fill="#000"/>
<circle cx="95.90" cy="367.65" r="1.6" fill="#000"/>
<circle cx="98.50" cy="366.89" r="1.6" fill="#000"/>
<circle cx="97.01" cy="375.77" r="1.6" fill="#000"/>
<circle cx="95.01" cy="382.13" r="1.6" fill="#000"/>
<circle cx="97.68" cy="382.97" r="1.6" fill="#000"/>
<circle cx="100.18" cy="382.69" r="1.6" fill="#000"/>
<circle cx="95.32" cy="385.19" r="1.6" fill="#000"/>
<circle cx="99.19" cy="385.03" r="1.6" fill="#000"/>
<circle cx="93.79" cy="388.74" r="1.6" fill="#000"/>
<circle cx="99.21" cy="388.22" r="1.6" fill="#000"/>
<circle cx="101.52" cy="389.01" r="1.6" fill="#000"/>
<circle cx="95.08" cy="391.81" r="1.6" fill="#000"/>
<circle cx="97.67" cy="392.09" r="1.6" fill="#000"/>
<circle cx="99.82" cy="391.92" r="1.6" fill="#000"/>
<circle cx="96.96" cy="397.11" r="1.6" fill="#000"/>
<circle cx="93.40" cy="398.44" r="1.6" fill="#000"/>
<circle cx="102.27" cy="398.91" r="1.6" fill="#000"/>
<circle cx="94.20" cy="401.52" r="1.6" fill="#000"/>
<circle cx="96.91" cy="401.59" r="1.6" fill="#000"/>
<circle cx="99.97" cy="401.92" r="1.6" fill="#000"/>
<circle cx="91.42" cy="405.25" r="1.6" fill="#000"/>
<circle cx="94.15" cy="405.69" r="1.6" fill="#000"/>
<circle cx="96.35" cy="405.50" r="1.6" fill="#000"/>
<circle cx="99.70" cy="405.10" r="1.6" fill="#000"/>
<circle cx="101.91" cy="405.46" r="1.6" fill="#000"/>
<circle cx="104.96" cy="404.70" r="1.6" fill="#000"/>
<circle cx="91.75" cy="408.00" r="1.6" fill="#000"/>
<circle cx="94.47" cy="407.92" r="1.6" fill="#000"/>
<circle cx="97.22" cy="407.21" r="1.6" fill="#000"/>
<circle cx="100.50" cy="406.86" r="1.6" fill="#000"/>
<circle cx="102.99" cy="406.86" r="1.6" fill="#000"/>
<circle cx="89.27" cy="409.76" r="1.6" fill="#000"/>
<circle cx="92.37" cy="410.01" r="1.6" fill="#000"/>
<circle cx="94.71" cy="409.41" r="1.6" fill="#000"/>
<circle cx="97.38" cy="409.58" r="1.6" fill="#000"/>
<circle cx="100.72" cy="409.52" r="1.6" fill="#000"/>
<circle cx="106.69" cy="409.74" r="1.6" fill="#000"/>
<circle cx="90.47" cy="413.06" r="1.6" fill="#000"/>
<circle cx="93.03" cy="412.53" r="1.6" fill="#000"/>
<circle cx="96.10" cy="412.58" r="1.6" fill="#000"/>
<circle cx="99.33" cy="412.51" r="1.6" fill="#000"/>
<circle cx="102.12" cy="412.13" r="1.6" fill="#000"/>
<circle cx="104.74" cy="413.17" r="1.6" fill="#000"/>
<circle cx="89.62" cy="415.07" r="1.6" fill="#000"/>
<circle cx="95.10" cy="414.33" r="1.6" fill="#000"/>
<circle cx="97.86" cy="414.38" r="1.6" fill="#000"/>
<circle cx="100.44" cy="415.25" r="1.6" fill="#000"/>
<circle cx="103.35" cy="415.33" r="1.6" fill="#000"/>
<circle cx="105.52" cy="414.38" r="1.6" fill="#000"/>
<circle cx="90.74" cy="418.15" r="1.6" fill="#000"/>
<circle cx="93.33" cy="417.63" r="1.6" fill="#000"/>
<circle cx="96.01" cy="417.24" r="1.6" fill="#000"/>
<circle cx="98.96" cy="417.22" r="1.6" fill="#000"/>
<circle cx="101.86" cy="416.84" r="1.6" fill="#000"/>
<circle cx="104.46" cy="417.83" r="1.6" fill="#000"/>
<circle cx="91.95" cy="419.61" r="1.6" fill="#000"/>
<circle cx="94.72" cy="419.56" r="1.6" fill="#000"/>
<circle cx="97.91" cy="419.44" r="1.6" fill="#000"/>
<circle cx="100.44" cy="420.47" r="1.6" fill="#000"/>
<circle cx="103.35" cy="420.50" r="1.6" fill="#000"/>
<circle cx="92.84" cy="422.27" r="1.6" fill="#000"/>
<circle cx="96.67" cy="422.43" r="1.6" fill="#000"/>
<circle cx="102.60" cy="422.54" r="1.6" fill="#000"/>
<circle cx="92.35" cy="425.43" r="1.6" fill="#000"/>
<circle cx="95.61" cy="424.69" r="1.6" fill="#000"/>
<circle cx="99.25" cy="425.43" r="1.6" fill="#000"/>
<circle cx="102.28" cy="424.48" r="1.6" fill="#000"/>
<circle cx="93.43" cy="427.91" r="1.6" fill="#000"/>
<circle cx="96.74" cy="427.38" r="1.6" fill="#000"/>
<circle cx="100.06" cy="428.09" r="1.6" fill="#000"/>
<circle cx="103.12" cy="426.81" r="1.6" fill="#000"/>
<circle cx="93.45" cy="430.53" r="1.6" fill="#000"/>
<circle cx="96.15" cy="430.63" r="1.6" fill="#000"/>
<circle cx="99.08" cy="430.34" r="1.6" fill="#000"/>
<circle cx="102.67" cy="430.23" r="1.6" fill="#000"/>
<circle cx="93.62" cy="432.20" r="1.6" fill="#000"/>
<circle cx="96.15" cy="431.90" r="1.6" fill="#000"/>
<circle cx="98.96" cy="432.93" r="1.6" fill="#000"/>
<circle cx="101.54" cy="433.07" r="1.6" fill="#000"/>
<circle cx="92.75" cy="435.59" r="1.6" fill="#000"/>
<circle cx="95.49" cy="435.11" r="1.6" fill="#000"/>
<circle cx="100.06" cy="434.72" r="1.6" fill="#000"/>
<circle cx="103.03" cy="435.03" r="1.6" fill="#000"/>
<circle cx="86.53" cy="438.11" r="1.6" fill="#000"/>
<circle cx="89.51" cy="437.15" r="1.6" fill="#000"/>
<circle cx="92.66" cy="437.90" r="1.6" fill="#000"/>
<circle cx="95.47" cy="437.55" r="1.6" fill="#000"/>
<circle cx="98.49" cy="437.91" r="1.6" fill="#000"/>
<circle cx="102.03" cy="437.95" r="1.6" fill="#000"/>
<circle cx="108.15" cy="436.87" r="1.6" fill="#000"/>
<circle cx="110.72" cy="437.18" r="1.6" fill="#000"/>
<circle cx="85.62" cy="439.89" r="1.6" fill="#000"/>
<circle cx="88.74" cy="439.30" r="1.6" fill="#000"/>
<circle cx="94.07" cy="439.40" r="1.6" fill="#000"/>
<circle cx="97.57" cy="439.42" r="1.6" fill="#000"/>
<circle cx="100.06" cy="439.74" r="1.6" fill="#000"/>
<circle cx="103.25" cy="440.12" r="1.6" fill="#000"/>
<circle cx="105.81" cy="439.76" r="1.6" fill="#000"/>
<circle cx="109.02" cy="440.30" r="1.6" fill="#000"/>
<circle cx="111.80" cy="439.41" r="1.6" fill="#000"/>
<circle cx="86.34" cy="442.32" r="1.6" fill="#000"/>
<circle cx="89.80" cy="442.33" r="1.6" fill="#000"/>
<circle cx="92.65" cy="442.40" r="1.6" fill="#000"/>
<circle cx="95.52" cy="442.78" r="1.6" fill="#000"/>
<circle cx="98.66" cy="442.45" r="1.6" fill="#000"/>
<circle cx="101.50" cy="442.77" r="1.6" fill="#000"/>
<circle cx="107.37" cy="443.03" r="1.6" fill="#000"/>
<circle cx="110.75" cy="442.32" r="1.6" fill="#000"/>
<circle cx="89.42" cy="445.41" r="1.6" fill="#000"/>
<circle cx="91.97" cy="444.47" r="1.6" fill="#000"/>
<circle cx="95.03" cy="445.54" r="1.6" fill="#000"/>
<circle cx="97.93" cy="445.33" r="1.6" fill="#000"/>
<circle cx="100.38" cy="445.12" r="1.6" fill="#000"/>
<circle cx="106.72" cy="444.36" r="1.6" fill="#000"/>
<circle cx="109.07" cy="444.44" r="1.6" fill="#000"/>
<circle cx="89.90" cy="447.05" r="1.6" fill="#000"/>
<circle cx="94.81" cy="447.98" r="1.6" fill="#000"/>
<circle cx="98.14" cy="448.13" r="1.6" fill="#000"/>
<circle cx="100.87" cy="446.85" r="1.6" fill="#000"/>
<circle cx="103.39" cy="447.80" r="1.6" fill="#000"/>
<circle cx="109.10" cy="448.11" r="1.6" fill="#000"/>
<circle cx="88.75" cy="449.75" r="1.6" fill="#000"/>
<circle cx="92.26" cy="449.64" r="1.6" fill="#000"/>
<circle cx="94.70" cy="450.16" r="1.6" fill="#000"/>
<circle cx="97.71" cy="449.81" r="1.6" fill="#000"/>
<circle cx="100.58" cy="449.89" r="1.6" fill="#000"/>
<circle cx="106.88" cy="449.88" r="1.6" fill="#000"/>
<circle cx="109.60" cy="449.52" r="1.6" fill="#000"/>
<circle cx="84.75" cy="452.86" r="1.6" fill="#000"/>
<circle cx="87.59" cy="452.48" r="1.6" fill="#000"/>
<circle cx="90.87" cy="452.01" r="1.6" fill="#000"/>
<circle cx="96.84" cy="452.52" r="1.6" fill="#000"/>
<circle cx="99.66" cy="452.06" r="1.6" fill="#000"/>
<circle cx="102.23" cy="452.62" r="1.6" fill="#000"/>
<circle cx="105.23" cy="452.77" r="1.6" fill="#000"/>
<circle cx="108.26" cy="452.79" r="1.6" fill="#000"/>
<circle cx="111.33" cy="453.00" r="1.6" fill="#000"/>
<circle cx="84.17" cy="454.67" r="1.6" fill="#000"/>
<circle cx="86.50" cy="454.97" r="1.6" fill="#000"/>
<circle cx="89.40" cy="454.80" r="1.6" fill="#000"/>
<circle cx="92.66" cy="454.50" r="1.6" fill="#000"/>
<circle cx="95.20" cy="455.14" r="1.6" fill="#000"/>
<circle cx="98.27" cy="455.45" r="1.6" fill="#000"/>
<circle cx="100.77" cy="455.31" r="1.6" fill="#000"/>
<circle cx="103.48" cy="455.33" r="1.6" fill="#000"/>
<circle cx="106.31" cy="454.62" r="1.6" fill="#000"/>
<circle cx="109.29" cy="455.25" r="1.6" fill="#000"/>
<circle cx="112.27" cy="455.50" r="1.6" fill="#000"/>
<circle cx="85.39" cy="457.07" r="1.6" fill="#000"/>
<circle cx="88.16" cy="457.79" r="1.6" fill="#000"/>
<circle cx="91.54" cy="457.16" r="1.6" fill="#000"/>
<circle cx="93.88" cy="457.39" r="1.6" fill="#000"/>
<circle cx="96.51" cy="456.93" r="1.6" fill="#000"/>
<circle cx="99.49" cy="457.30" r="1.6" fill="#000"/>
<circle cx="102.61" cy="456.81" r="1.6" fill="#000"/>
<circle cx="105.23" cy="457.48" r="1.6" fill="#000"/>
<circle cx="108.16" cy="458.14" r="1.6" fill="#000"/>
<circle cx="110.81" cy="457.56" r="1.6" fill="#000"/>
<circle cx="79.30" cy="459.68" r="1.6" fill="#000"/>
<circle cx="82.27" cy="460.54" r="1.6" fill="#000"/>
<circle cx="85.24" cy="460.62" r="1.6" fill="#000"/>
<circle cx="88.77" cy="460.36" r="1.6" fill="#000"/>
<circle cx="91.67" cy="460.22" r="1.6" fill="#000"/>
<circle cx="94.33" cy="460.36" r="1.6" fill="#000"/>
<circle cx="97.64" cy="460.05" r="1.6" fill="#000"/>
<circle cx="103.35" cy="460.31" r="1.6" fill="#000"/>
<circle cx="106.50" cy="459.55" r="1.6" fill="#000"/>
<circle cx="109.54" cy="459.55" r="1.6" fill="#000"/>
<circle cx="112.54" cy="459.47" r="1.6" fill="#000"/>
<circle cx="115.75" cy="459.50" r="1.6" fill="#000"/>
<circle cx="76.47" cy="462.81" r="1.6" fill="#000"/>
<circle cx="79.46" cy="462.71" r="1.6" fill="#000"/>
<circle cx="82.09" cy="462.05" r="1.6" fill="#000"/>
<circle cx="88.08" cy="462.56" r="1.6" fill="#000"/>
<circle cx="90.59" cy="462.17" r="1.6" fill="#000"/>
<circle cx="93.82" cy="461.86" r="1.6" fill="#000"/>
<circle cx="96.14" cy="462.88" r="1.6" fill="#000"/>
<circle cx="99.03" cy="462.36" r="1.6" fill="#000"/>
<circle cx="102.20" cy="462.29" r="1.6" fill="#000"/>
<circle cx="104.49" cy="462.18" r="1.6" fill="#000"/>
<circle cx="113.44" cy="462.06" r="1.6" fill="#000"/>
<circle cx="116.01" cy="462.84" r="1.6" fill="#000"/>
<circle cx="119.15" cy="462.85" r="1.6" fill="#000"/>
<circle cx="77.17" cy="464.51" r="1.6" fill="#000"/>
<circle cx="79.84" cy="465.04" r="1.6" fill="#000"/>
<circle cx="82.83" cy="464.65" r="1.6" fill="#000"/>
<circle cx="85.68" cy="465.42" r="1.6" fill="#000"/>
<circle cx="89.40" cy="464.84" r="1.6" fill="#000"/>
<circle cx="92.10" cy="465.19" r="1.6" fill="#000"/>
<circle cx="95.16" cy="464.72" r="1.6" fill="#000"/>
<circle cx="97.99" cy="465.14" r="1.6" fill="#000"/>
<circle cx="100.59" cy="465.38" r="1.6" fill="#000"/>
<circle cx="103.96" cy="465.03" r="1.6" fill="#000"/>
<circle cx="106.71" cy="465.04" r="1.6" fill="#000"/>
<circle cx="113.05" cy="464.92" r="1.6" fill="#000"/>
<circle cx="116.28" cy="465.55" r="1.6" fill="#000"/>
<circle cx="118.61" cy="465.41" r="1.6" fill="#000"/>
<circle cx="80.70" cy="466.87" r="1.6" fill="#000"/>
<circle cx="83.29" cy="466.91" r="1.6" fill="#000"/>
<circle cx="86.74" cy="467.25" r="1.6" fill="#000"/>
<circle cx="89.46" cy="466.99" r="1.6" fill="#000"/>
<circle cx="92.28" cy="468.10" r="1.6" fill="#000"/>
<circle cx="95.29" cy="467.28" r="1.6" fill="#000"/>
<circle cx="98.35" cy="468.01" r="1.6" fill="#000"/>
<circle cx="101.11" cy="467.48" r="1.6" fill="#000"/>
<circle cx="112.23" cy="467.50" r="1.6" fill="#000"/>
<circle cx="115.56" cy="467.55" r="1.6" fill="#000"/>
<circle cx="86.54" cy="470.01" r="1.6" fill="#000"/>
<circle cx="89.42" cy="470.16" r="1.6" fill="#000"/>
<circle cx="92.04" cy="470.36" r="1.6" fill="#000"/>
<circle cx="95.04" cy="469.62" r="1.6" fill="#000"/>
<circle cx="98.08" cy="469.41" r="1.6" fill="#000"/>
<circle cx="103.93" cy="469.30" r="1.6" fill="#000"/>
<circle cx="106.31" cy="469.39" r="1.6" fill="#000"/>
<circle cx="109.14" cy="469.67" r="1.6" fill="#000"/>
<circle cx="167.70" cy="362.50" r="1.7" fill="#000"/>
<circle cx="167.70" cy="367.50" r="1.7" fill="#000"/>
<circle cx="171.30" cy="366.00" r="1.7" fill="#000"/>
<circle cx="171.30" cy="370.40" r="1.7" fill="#000"/>
<circle cx="175.00" cy="369.40" r="1.7" fill="#000"/>
<circle cx="175.00" cy="372.60" r="1.7" fill="#000"/>
<circle cx="149.28" cy="375.23" r="1.7" fill="#000"/>
<circle cx="153.14" cy="375.30" r="1.7" fill="#000"/>
<circle cx="156.81" cy="374.73" r="1.7" fill="#000"/>
<circle cx="160.35" cy="374.91" r="1.7" fill="#000"/>
<circle cx="164.20" cy="373.81" r="1.7" fill="#000"/>
<circle cx="167.47" cy="374.51" r="1.7" fill="#000"/>
<circle cx="175.14" cy="374.27" r="1.7" fill="#000"/>
<circle cx="178.38" cy="374.08" r="1.7" fill="#000"/>
<circle cx="182.40" cy="374.34" r="1.7" fill="#000"/>
<circle cx="185.76" cy="373.92" r="1.7" fill="#000"/>
<circle cx="189.73" cy="373.90" r="1.7" fill="#000"/>
<circle cx="153.07" cy="377.93" r="1.7" fill="#000"/>
<circle cx="156.73" cy="378.76" r="1.7" fill="#000"/>
<circle cx="160.48" cy="377.19" r="1.7" fill="#000"/>
<circle cx="164.30" cy="377.36" r="1.7" fill="#000"/>
<circle cx="167.45" cy="378.03" r="1.7" fill="#000"/>
<circle cx="171.09" cy="377.94" r="1.7" fill="#000"/>
<circle cx="178.56" cy="378.23" r="1.7" fill="#000"/>
<circle cx="182.31" cy="377.30" r="1.7" fill="#000"/>
<circle cx="145.89" cy="381.61" r="1.7" fill="#000"/>
<circle cx="149.36" cy="382.39" r="1.7" fill="#000"/>
<circle cx="156.90" cy="382.30" r="1.7" fill="#000"/>
<circle cx="160.49" cy="380.49" r="1.7" fill="#000"/>
<circle cx="164.16" cy="381.58" r="1.7" fill="#000"/>
<circle cx="167.45" cy="381.09" r="1.7" fill="#000"/>
<circle cx="171.39" cy="381.30" r="1.7" fill="#000"/>
<circle cx="175.27" cy="381.55" r="1.7" fill="#000"/>
<circle cx="178.80" cy="381.06" r="1.7" fill="#000"/>
<circle cx="182.09" cy="381.29" r="1.7" fill="#000"/>
<circle cx="185.65" cy="381.66" r="1.7" fill="#000"/>
<circle cx="189.71" cy="380.45" r="1.7" fill="#000"/>
<circle cx="153.27" cy="384.35" r="1.7" fill="#000"/>
<circle cx="156.74" cy="384.31" r="1.7" fill="#000"/>
<circle cx="163.98" cy="385.57" r="1.7" fill="#000"/>
<circle cx="167.80" cy="384.19" r="1.7" fill="#000"/>
<circle cx="171.20" cy="383.95" r="1.7" fill="#000"/>
<circle cx="178.89" cy="385.82" r="1.7" fill="#000"/>
<circle cx="181.97" cy="383.97" r="1.7" fill="#000"/>
<circle cx="185.83" cy="385.07" r="1.7" fill="#000"/>
<circle cx="149.54" cy="387.57" r="1.7" fill="#000"/>
<circle cx="153.17" cy="388.69" r="1.7" fill="#000"/>
<circle cx="156.75" cy="388.71" r="1.7" fill="#000"/>
<circle cx="160.35" cy="389.07" r="1.7" fill="#000"/>
<circle cx="164.19" cy="388.84" r="1.7" fill="#000"/>
<circle cx="167.70" cy="387.50" r="1.7" fill="#000"/>
<circle cx="171.36" cy="387.65" r="1.7" fill="#000"/>
<circle cx="174.73" cy="388.86" r="1.7" fill="#000"/>
<circle cx="178.33" cy="387.65" r="1.7" fill="#000"/>
<circle cx="182.30" cy="388.08" r="1.7" fill="#000"/>
<circle cx="185.89" cy="389.19" r="1.7" fill="#000"/>
<circle cx="149.80" cy="392.53" r="1.7" fill="#000"/>
<circle cx="153.15" cy="391.82" r="1.7" fill="#000"/>
<circle cx="160.51" cy="391.83" r="1.7" fill="#000"/>
<circle cx="164.19" cy="392.19" r="1.7" fill="#000"/>
<circle cx="167.82" cy="391.66" r="1.7" fill="#000"/>
<circle cx="171.42" cy="390.86" r="1.7" fill="#000"/>
<circle cx="174.90" cy="392.51" r="1.7" fill="#000"/>
<circle cx="178.81" cy="392.21" r="1.7" fill="#000"/>
<circle cx="182.49" cy="390.82" r="1.7" fill="#000"/>
<circle cx="149.24" cy="394.58" r="1.7" fill="#000"/>
<circle cx="152.95" cy="394.33" r="1.7" fill="#000"/>
<circle cx="156.76" cy="395.27" r="1.7" fill="#000"/>
<circle cx="160.59" cy="394.87" r="1.7" fill="#000"/>
<circle cx="163.77" cy="396.11" r="1.7" fill="#000"/>
<circle cx="167.99" cy="396.17" r="1.7" fill="#000"/>
<circle cx="171.10" cy="394.90" r="1.7" fill="#000"/>
<circle cx="175.15" cy="394.58" r="1.7" fill="#000"/>
<circle cx="178.39" cy="394.44" r="1.7" fill="#000"/>
<circle cx="149.51" cy="398.39" r="1.7" fill="#000"/>
<circle cx="152.98" cy="398.16" r="1.7" fill="#000"/>
<circle cx="156.60" cy="398.53" r="1.7" fill="#000"/>
<circle cx="163.82" cy="399.25" r="1.7" fill="#000"/>
<circle cx="167.55" cy="399.35" r="1.7" fill="#000"/>
<circle cx="171.17" cy="397.77" r="1.7" fill="#000"/>
<circle cx="174.86" cy="399.25" r="1.7" fill="#000"/>
<circle cx="156.67" cy="401.59" r="1.7" fill="#000"/>
<circle cx="160.42" cy="401.79" r="1.7" fill="#000"/>
<circle cx="164.00" cy="401.52" r="1.7" fill="#000"/>
<circle cx="167.68" cy="402.32" r="1.7" fill="#000"/>
<circle cx="171.30" cy="401.47" r="1.7" fill="#000"/>
<circle cx="174.88" cy="401.44" r="1.7" fill="#000"/>
<circle cx="178.43" cy="402.52" r="1.7" fill="#000"/>
<circle cx="182.04" cy="402.35" r="1.7" fill="#000"/>
<circle cx="185.87" cy="402.31" r="1.7" fill="#000"/>
<circle cx="153.17" cy="405.22" r="1.7" fill="#000"/>
<circle cx="156.81" cy="405.49" r="1.7" fill="#000"/>
<circle cx="160.31" cy="406.22" r="1.7" fill="#000"/>
<circle cx="163.82" cy="405.98" r="1.7" fill="#000"/>
<circle cx="167.72" cy="404.69" r="1.7" fill="#000"/>
<circle cx="171.59" cy="404.63" r="1.7" fill="#000"/>
<circle cx="174.78" cy="404.74" r="1.7" fill="#000"/>
<circle cx="178.92" cy="405.85" r="1.7" fill="#000"/>
<circle cx="182.49" cy="405.56" r="1.7" fill="#000"/>
<circle cx="186.01" cy="405.27" r="1.7" fill="#000"/>
<circle cx="189.43" cy="405.32" r="1.7" fill="#000"/>
<circle cx="145.93" cy="409.74" r="1.7" fill="#000"/>
<circle cx="153.25" cy="408.04" r="1.7" fill="#000"/>
<circle cx="157.00" cy="409.35" r="1.7" fill="#000"/>
<circle cx="163.92" cy="408.29" r="1.7" fill="#000"/>
<circle cx="167.81" cy="408.46" r="1.7" fill="#000"/>
<circle cx="171.49" cy="408.70" r="1.7" fill="#000"/>
<circle cx="175.01" cy="409.86" r="1.7" fill="#000"/>
<circle cx="178.43" cy="409.56" r="1.7" fill="#000"/>
<circle cx="182.02" cy="408.27" r="1.7" fill="#000"/>
<circle cx="185.93" cy="409.80" r="1.7" fill="#000"/>
<circle cx="189.36" cy="409.37" r="1.7" fill="#000"/>
<circle cx="160.42" cy="411.57" r="1.7" fill="#000"/>
<circle cx="164.00" cy="412.38" r="1.7" fill="#000"/>
<circle cx="167.98" cy="412.56" r="1.7" fill="#000"/>
<circle cx="178.53" cy="413.23" r="1.7" fill="#000"/>
<circle cx="182.54" cy="411.82" r="1.7" fill="#000"/>
<circle cx="186.16" cy="412.53" r="1.7" fill="#000"/>
<circle cx="149.23" cy="416.61" r="1.7" fill="#000"/>
<circle cx="152.96" cy="416.56" r="1.7" fill="#000"/>
<circle cx="156.56" cy="415.50" r="1.7" fill="#000"/>
<circle cx="160.36" cy="416.46" r="1.7" fill="#000"/>
<circle cx="164.34" cy="414.98" r="1.7" fill="#000"/>
<circle cx="167.49" cy="416.05" r="1.7" fill="#000"/>
<circle cx="171.44" cy="415.95" r="1.7" fill="#000"/>
<circle cx="175.19" cy="416.48" r="1.7" fill="#000"/>
<circle cx="182.19" cy="416.82" r="1.7" fill="#000"/>
<circle cx="185.77" cy="415.86" r="1.7" fill="#000"/>
<circle cx="189.75" cy="416.17" r="1.7" fill="#000"/>
<circle cx="146.14" cy="419.39" r="1.7" fill="#000"/>
<circle cx="149.57" cy="420.25" r="1.7" fill="#000"/>
<circle cx="152.85" cy="418.75" r="1.7" fill="#000"/>
<circle cx="156.80" cy="418.97" r="1.7" fill="#000"/>
<circle cx="160.24" cy="418.38" r="1.7" fill="#000"/>
<circle cx="163.83" cy="418.97" r="1.7" fill="#000"/>
<circle cx="167.51" cy="419.62" r="1.7" fill="#000"/>
<circle cx="175.06" cy="419.00" r="1.7" fill="#000"/>
<circle cx="181.98" cy="419.83" r="1.7" fill="#000"/>
<circle cx="185.63" cy="418.39" r="1.7" fill="#000"/>
<circle cx="149.53" cy="423.21" r="1.7" fill="#000"/>
<circle cx="153.26" cy="423.22" r="1.7" fill="#000"/>
<circle cx="160.46" cy="422.82" r="1.7" fill="#000"/>
<circle cx="163.98" cy="423.12" r="1.7" fill="#000"/>
<circle cx="167.61" cy="422.83" r="1.7" fill="#000"/>
<circle cx="171.06" cy="423.75" r="1.7" fill="#000"/>
<circle cx="174.95" cy="422.38" r="1.7" fill="#000"/>
<circle cx="178.64" cy="423.30" r="1.7" fill="#000"/>
<circle cx="182.49" cy="423.44" r="1.7" fill="#000"/>
<circle cx="189.40" cy="422.70" r="1.7" fill="#000"/>
<circle cx="146.13" cy="426.07" r="1.7" fill="#000"/>
<circle cx="153.23" cy="426.85" r="1.7" fill="#000"/>
<circle cx="156.73" cy="425.29" r="1.7" fill="#000"/>
<circle cx="160.35" cy="427.14" r="1.7" fill="#000"/>
<circle cx="174.70" cy="425.83" r="1.7" fill="#000"/>
<circle cx="178.39" cy="426.40" r="1.7" fill="#000"/>
<circle cx="182.33" cy="426.01" r="1.7" fill="#000"/>
<circle cx="186.18" cy="425.62" r="1.7" fill="#000"/>
<circle cx="153.29" cy="430.48" r="1.7" fill="#000"/>
<circle cx="156.76" cy="430.01" r="1.7" fill="#000"/>
<circle cx="160.57" cy="429.99" r="1.7" fill="#000"/>
<circle cx="164.17" cy="430.25" r="1.7" fill="#000"/>
<circle cx="167.75" cy="429.97" r="1.7" fill="#000"/>
<circle cx="171.09" cy="429.52" r="1.7" fill="#000"/>
<circle cx="175.11" cy="428.85" r="1.7" fill="#000"/>
<circle cx="178.67" cy="429.77" r="1.7" fill="#000"/>
<circle cx="182.35" cy="430.09" r="1.7" fill="#000"/>
<circle cx="186.16" cy="429.86" r="1.7" fill="#000"/>
<circle cx="189.41" cy="430.10" r="1.7" fill="#000"/>
<circle cx="146.14" cy="433.55" r="1.7" fill="#000"/>
<circle cx="152.84" cy="433.90" r="1.7" fill="#000"/>
<circle cx="156.75" cy="433.19" r="1.7" fill="#000"/>
<circle cx="160.34" cy="433.70" r="1.7" fill="#000"/>
<circle cx="164.35" cy="433.54" r="1.7" fill="#000"/>
<circle cx="167.69" cy="433.91" r="1.7" fill="#000"/>
<circle cx="171.46" cy="433.97" r="1.7" fill="#000"/>
<circle cx="178.80" cy="433.37" r="1.7" fill="#000"/>
<circle cx="185.85" cy="433.05" r="1.7" fill="#000"/>
<circle cx="149.33" cy="437.26" r="1.7" fill="#000"/>
<circle cx="156.53" cy="437.15" r="1.7" fill="#000"/>
<circle cx="160.29" cy="436.56" r="1.7" fill="#000"/>
<circle cx="163.79" cy="437.07" r="1.7" fill="#000"/>
<circle cx="167.45" cy="437.42" r="1.7" fill="#000"/>
<circle cx="171.50" cy="437.23" r="1.7" fill="#000"/>
<circle cx="174.90" cy="436.05" r="1.7" fill="#000"/>
<circle cx="178.90" cy="437.09" r="1.7" fill="#000"/>
<circle cx="182.28" cy="436.42" r="1.7" fill="#000"/>
<circle cx="189.39" cy="436.99" r="1.7" fill="#000"/>
<circle cx="146.15" cy="440.50" r="1.7" fill="#000"/>
<circle cx="149.21" cy="440.25" r="1.7" fill="#000"/>
<circle cx="153.14" cy="440.25" r="1.7" fill="#000"/>
<circle cx="156.71" cy="440.14" r="1.7" fill="#000"/>
<circle cx="160.20" cy="439.72" r="1.7" fill="#000"/>
<circle cx="163.97" cy="440.91" r="1.7" fill="#000"/>
<circle cx="167.45" cy="439.78" r="1.7" fill="#000"/>
<circle cx="171.26" cy="439.49" r="1.7" fill="#000"/>
<circle cx="175.22" cy="440.93" r="1.7" fill="#000"/>
<circle cx="178.47" cy="440.21" r="1.7" fill="#000"/>
<circle cx="182.00" cy="440.64" r="1.7" fill="#000"/>
<circle cx="185.70" cy="440.69" r="1.7" fill="#000"/>
<circle cx="189.38" cy="439.35" r="1.7" fill="#000"/>
<circle cx="152.88" cy="444.31" r="1.7" fill="#000"/>
<circle cx="156.91" cy="443.88" r="1.7" fill="#000"/>
<circle cx="160.41" cy="443.33" r="1.7" fill="#000"/>
<circle cx="164.15" cy="442.80" r="1.7" fill="#000"/>
<circle cx="167.56" cy="443.24" r="1.7" fill="#000"/>
<circle cx="171.38" cy="443.79" r="1.7" fill="#000"/>
<circle cx="174.68" cy="444.07" r="1.7" fill="#000"/>
<circle cx="178.77" cy="443.54" r="1.7" fill="#000"/>
<circle cx="189.34" cy="443.18" r="1.7" fill="#000"/>
<circle cx="145.70" cy="446.12" r="1.7" fill="#000"/>
<circle cx="149.44" cy="445.96" r="1.7" fill="#000"/>
<circle cx="153.35" cy="447.38" r="1.7" fill="#000"/>
<circle cx="156.92" cy="446.33" r="1.7" fill="#000"/>
<circle cx="160.51" cy="447.04" r="1.7" fill="#000"/>
<circle cx="164.35" cy="446.37" r="1.7" fill="#000"/>
<circle cx="167.52" cy="446.14" r="1.7" fill="#000"/>
<circle cx="171.06" cy="447.61" r="1.7" fill="#000"/>
<circle cx="175.02" cy="446.50" r="1.7" fill="#000"/>
<circle cx="178.79" cy="447.05" r="1.7" fill="#000"/>
<circle cx="182.41" cy="446.24" r="1.7" fill="#000"/>
<circle cx="186.02" cy="447.65" r="1.7" fill="#000"/>
<circle cx="156.59" cy="450.56" r="1.7" fill="#000"/>
<circle cx="160.55" cy="450.10" r="1.7" fill="#000"/>
<circle cx="163.88" cy="449.68" r="1.7" fill="#000"/>
<circle cx="167.81" cy="450.47" r="1.7" fill="#000"/>
<circle cx="171.48" cy="450.30" r="1.7" fill="#000"/>
<circle cx="174.80" cy="451.39" r="1.7" fill="#000"/>
<circle cx="178.60" cy="449.82" r="1.7" fill="#000"/>
<circle cx="182.24" cy="450.25" r="1.7" fill="#000"/>
<circle cx="153.33" cy="452.99" r="1.7" fill="#000"/>
<circle cx="156.98" cy="453.09" r="1.7" fill="#000"/>
<circle cx="160.37" cy="454.74" r="1.7" fill="#000"/>
<circle cx="167.78" cy="454.51" r="1.7" fill="#000"/>
<circle cx="171.23" cy="453.15" r="1.7" fill="#000"/>
<circle cx="174.71" cy="452.95" r="1.7" fill="#000"/>
<circle cx="178.67" cy="452.98" r="1.7" fill="#000"/>
<circle cx="153.29" cy="456.66" r="1.7" fill="#000"/>
<circle cx="156.75" cy="456.41" r="1.7" fill="#000"/>
<circle cx="160.28" cy="456.77" r="1.7" fill="#000"/>
<circle cx="164.31" cy="457.09" r="1.7" fill="#000"/>
<circle cx="167.46" cy="456.41" r="1.7" fill="#000"/>
<circle cx="171.29" cy="456.46" r="1.7" fill="#000"/>
<circle cx="174.89" cy="456.34" r="1.7" fill="#000"/>
<circle cx="178.41" cy="456.66" r="1.7" fill="#000"/>
<circle cx="182.22" cy="457.01" r="1.7" fill="#000"/>
<circle cx="153.04" cy="461.66" r="1.7" fill="#000"/>
<circle cx="156.59" cy="459.99" r="1.7" fill="#000"/>
<circle cx="160.33" cy="460.53" r="1.7" fill="#000"/>
<circle cx="163.97" cy="460.72" r="1.7" fill="#000"/>
<circle cx="167.96" cy="461.66" r="1.7" fill="#000"/>
<circle cx="171.27" cy="461.73" r="1.7" fill="#000"/>
<circle cx="175.21" cy="459.98" r="1.7" fill="#000"/>
<circle cx="178.57" cy="460.37" r="1.7" fill="#000"/>
<circle cx="182.53" cy="460.53" r="1.7" fill="#000"/>
<circle cx="185.79" cy="460.93" r="1.7" fill="#000"/>
<circle cx="145.60" cy="464.70" r="1.7" fill="#000"/>
<circle cx="152.96" cy="463.40" r="1.7" fill="#000"/>
<circle cx="156.83" cy="465.07" r="1.7" fill="#000"/>
<circle cx="160.46" cy="464.39" r="1.7" fill="#000"/>
<circle cx="171.11" cy="463.46" r="1.7" fill="#000"/>
<circle cx="175.19" cy="465.13" r="1.7" fill="#000"/>
<circle cx="178.78" cy="464.52" r="1.7" fill="#000"/>
<circle cx="182.20" cy="465.11" r="1.7" fill="#000"/>
<circle cx="185.66" cy="463.31" r="1.7" fill="#000"/>
<circle cx="156.70" cy="467.21" r="1.7" fill="#000"/>
<circle cx="160.12" cy="467.26" r="1.7" fill="#000"/>
<circle cx="164.14" cy="466.66" r="1.7" fill="#000"/>
<circle cx="167.50" cy="467.09" r="1.7" fill="#000"/>
<circle cx="171.06" cy="468.31" r="1.7" fill="#000"/>
<circle cx="175.07" cy="467.37" r="1.7" fill="#000"/>
<circle cx="178.38" cy="468.38" r="1.7" fill="#000"/>
<circle cx="182.27" cy="467.78" r="1.7" fill="#000"/>
<line x1="68.80" y1="438.80" x2="127.00" y2="438.80" stroke="#0c30ff" stroke-width="2.0"/>
<line x1="138.90" y1="417.30" x2="196.60" y2="417.30" stroke="#0c30ff" stroke-width="2.0"/>
<line x1="248.30" y1="305.60" x2="248.30" y2="471.60" stroke="#1e1e1e" stroke-width="1.3"/>
<line x1="247.70" y1="471.00" x2="414.40" y2="471.00" stroke="#1e1e1e" stroke-width="1.3"/>
<line x1="244.00" y1="471.00" x2="248.30" y2="471.00" stroke="#1e1e1e" stroke-width="1.3"/>
<text x="242.80" y="474.70" font-size="10.1" font-weight="bold" text-anchor="end" fill="#000" >0</text>
<line x1="244.00" y1="429.80" x2="248.30" y2="429.80" stroke="#1e1e1e" stroke-width="1.3"/>
<text x="242.80" y="433.50" font-size="10.1" font-weight="bold" text-anchor="end" fill="#000" >10</text>
<line x1="244.00" y1="388.60" x2="248.30" y2="388.60" stroke="#1e1e1e" stroke-width="1.3"/>
<text x="242.80" y="392.30" font-size="10.1" font-weight="bold" text-anchor="end" fill="#000" >20</text>
<line x1="244.00" y1="347.40" x2="248.30" y2="347.40" stroke="#1e1e1e" stroke-width="1.3"/>
<text x="242.80" y="351.10" font-size="10.1" font-weight="bold" text-anchor="end" fill="#000" >30</text>
<line x1="244.00" y1="306.20" x2="248.30" y2="306.20" stroke="#1e1e1e" stroke-width="1.3"/>
<text x="242.80" y="309.90" font-size="10.1" font-weight="bold" text-anchor="end" fill="#000" >40</text>
<line x1="248.30" y1="471.00" x2="248.30" y2="475.00" stroke="#1e1e1e" stroke-width="1.3"/>
<text x="248.30" y="485.80" font-size="10.1" font-weight="bold" text-anchor="middle" fill="#000" >0</text>
<line x1="281.40" y1="471.00" x2="281.40" y2="475.00" stroke="#1e1e1e" stroke-width="1.3"/>
<text x="281.40" y="485.80" font-size="10.1" font-weight="bold" text-anchor="middle" fill="#000" >2,000</text>
<line x1="314.50" y1="471.00" x2="314.50" y2="475.00" stroke="#1e1e1e" stroke-width="1.3"/>
<text x="314.50" y="485.80" font-size="10.1" font-weight="bold" text-anchor="middle" fill="#000" >4,000</text>
<line x1="347.60" y1="471.00" x2="347.60" y2="475.00" stroke="#1e1e1e" stroke-width="1.3"/>
<text x="347.60" y="485.80" font-size="10.1" font-weight="bold" text-anchor="middle" fill="#000" >6,000</text>
<line x1="380.70" y1="471.00" x2="380.70" y2="475.00" stroke="#1e1e1e" stroke-width="1.3"/>
<text x="380.70" y="485.80" font-size="10.1" font-weight="bold" text-anchor="middle" fill="#000" >8,000</text>
<line x1="413.80" y1="471.00" x2="413.80" y2="475.00" stroke="#1e1e1e" stroke-width="1.3"/>
<text x="413.80" y="485.80" font-size="10.1" font-weight="bold" text-anchor="middle" fill="#000" >10,000</text>
<text x="330.60" y="498.60" font-size="10" font-weight="bold" text-anchor="middle" fill="#000" >Number of Intra-Tumoral Plasma Cells</text>
<text transform="translate(226.40,385.90) rotate(-90)" x="0" y="0" font-size="10" font-weight="bold" text-anchor="middle" fill="#000">Number of Lymphoid Aggregates</text>
<line x1="255.00" y1="312.90" x2="265.00" y2="312.90" stroke="#0f5499" stroke-width="1.6"/>
<circle cx="259.80" cy="312.90" r="2.8" fill="#0f5499"/>
<line x1="255.00" y1="324.10" x2="265.00" y2="324.10" stroke="#fa7e7b" stroke-width="1.6"/>
<circle cx="259.80" cy="324.10" r="2.8" fill="#fa7e7b"/>
<text x="269.60" y="316.60" font-size="10.1" font-weight="normal" text-anchor="start" fill="#111" >Intra-Tumoral</text>
<text x="269.60" y="327.80" font-size="10.1" font-weight="normal" text-anchor="start" fill="#111" >Extra-Tumoral</text>
<text x="259.40" y="346.80" font-size="12.7" font-weight="normal" text-anchor="start" fill="#000" >N=18</text>
<text x="333.60" y="352.80" font-size="10" font-weight="normal" text-anchor="start" fill="#1f62a8" >P&lt;0.001</text>
<text x="354.50" y="434.40" font-size="10" font-weight="normal" text-anchor="start" fill="#f28882" >P=0.742</text>
<circle cx="262.70" cy="400.60" r="2.95" fill="#fa7e7b"/>
<circle cx="310.70" cy="400.60" r="2.95" fill="#fa7e7b"/>
<circle cx="257.50" cy="417.20" r="2.95" fill="#fa7e7b"/>
<circle cx="274.10" cy="413.10" r="2.95" fill="#fa7e7b"/>
<circle cx="284.90" cy="417.20" r="2.95" fill="#fa7e7b"/>
<circle cx="312.40" cy="437.80" r="2.95" fill="#fa7e7b"/>
<circle cx="274.90" cy="450.10" r="2.95" fill="#fa7e7b"/>
<circle cx="253.50" cy="462.50" r="2.95" fill="#fa7e7b"/>
<circle cx="330.60" cy="462.50" r="2.95" fill="#fa7e7b"/>
<circle cx="299.30" cy="466.70" r="2.95" fill="#fa7e7b"/>
<circle cx="304.20" cy="466.70" r="2.95" fill="#fa7e7b"/>
<circle cx="273.30" cy="470.80" r="2.95" fill="#fa7e7b"/>
<circle cx="304.90" cy="470.80" r="2.95" fill="#fa7e7b"/>
<circle cx="250.80" cy="470.80" r="2.95" fill="#fa7e7b"/>
<circle cx="316.10" cy="359.70" r="2.95" fill="#fa7e7b"/>
<circle cx="360.50" cy="458.40" r="2.95" fill="#fa7e7b"/>
<circle cx="382.60" cy="466.90" r="2.95" fill="#fa7e7b"/>
<line x1="251.20" y1="438.80" x2="383.60" y2="449.10" stroke="#fa7e7b" stroke-width="1.6"/>
<circle cx="310.70" cy="384.20" r="2.95" fill="#0f5499"/>
<circle cx="305.10" cy="405.00" r="2.95" fill="#0f5499"/>
<circle cx="312.40" cy="408.90" r="2.95" fill="#0f5499"/>
<circle cx="330.60" cy="413.30" r="2.95" fill="#0f5499"/>
<circle cx="274.90" cy="417.20" r="2.95" fill="#0f5499"/>
<circle cx="316.10" cy="425.70" r="2.95" fill="#0f5499"/>
<circle cx="284.90" cy="429.70" r="2.95" fill="#0f5499"/>
<circle cx="274.10" cy="437.80" r="2.95" fill="#0f5499"/>
<circle cx="304.20" cy="437.80" r="2.95" fill="#0f5499"/>
<circle cx="299.30" cy="446.10" r="2.95" fill="#0f5499"/>
<circle cx="257.50" cy="450.10" r="2.95" fill="#0f5499"/>
<circle cx="262.70" cy="454.40" r="2.95" fill="#0f5499"/>
<circle cx="273.30" cy="458.40" r="2.95" fill="#0f5499"/>
<circle cx="252.00" cy="462.50" r="2.95" fill="#0f5499"/>
<circle cx="268.30" cy="466.70" r="2.95" fill="#0f5499"/>
<circle cx="252.90" cy="470.80" r="2.95" fill="#0f5499"/>
<circle cx="360.60" cy="310.10" r="2.95" fill="#0f5499"/>
<circle cx="382.70" cy="384.40" r="2.95" fill="#0f5499"/>
<line x1="254.50" y1="462.90" x2="382.90" y2="349.20" stroke="#0f5499" stroke-width="1.6"/>
<line x1="481.20" y1="306.10" x2="481.20" y2="471.80" stroke="#1e1e1e" stroke-width="1.3"/>
<line x1="480.60" y1="471.20" x2="647.88" y2="471.20" stroke="#1e1e1e" stroke-width="1.3"/>
<line x1="477.20" y1="471.20" x2="481.20" y2="471.20" stroke="#1e1e1e" stroke-width="1.3"/>
<text x="476.00" y="474.80" font-size="10" font-weight="bold" text-anchor="end" fill="#000" >0.00</text>
<line x1="477.20" y1="438.30" x2="481.20" y2="438.30" stroke="#1e1e1e" stroke-width="1.3"/>
<text x="476.00" y="441.90" font-size="10" font-weight="bold" text-anchor="end" fill="#000" >0.05</text>
<line x1="477.20" y1="405.40" x2="481.20" y2="405.40" stroke="#1e1e1e" stroke-width="1.3"/>
<text x="476.00" y="409.00" font-size="10" font-weight="bold" text-anchor="end" fill="#000" >0.10</text>
<line x1="477.20" y1="372.50" x2="481.20" y2="372.50" stroke="#1e1e1e" stroke-width="1.3"/>
<text x="476.00" y="376.10" font-size="10" font-weight="bold" text-anchor="end" fill="#000" >0.15</text>
<line x1="477.20" y1="339.60" x2="481.20" y2="339.60" stroke="#1e1e1e" stroke-width="1.3"/>
<text x="476.00" y="343.20" font-size="10" font-weight="bold" text-anchor="end" fill="#000" >0.20</text>
<line x1="477.20" y1="306.70" x2="481.20" y2="306.70" stroke="#1e1e1e" stroke-width="1.3"/>
<text x="476.00" y="310.30" font-size="10" font-weight="bold" text-anchor="end" fill="#000" >0.25</text>
<line x1="481.20" y1="471.20" x2="481.20" y2="475.20" stroke="#1e1e1e" stroke-width="1.3"/>
<text x="481.20" y="485.80" font-size="10" font-weight="bold" text-anchor="middle" fill="#000" >0</text>
<line x1="522.72" y1="471.20" x2="522.72" y2="475.20" stroke="#1e1e1e" stroke-width="1.3"/>
<text x="522.72" y="485.80" font-size="10" font-weight="bold" text-anchor="middle" fill="#000" >20</text>
<line x1="564.24" y1="471.20" x2="564.24" y2="475.20" stroke="#1e1e1e" stroke-width="1.3"/>
<text x="564.24" y="485.80" font-size="10" font-weight="bold" text-anchor="middle" fill="#000" >40</text>
<line x1="605.76" y1="471.20" x2="605.76" y2="475.20" stroke="#1e1e1e" stroke-width="1.3"/>
<text x="605.76" y="485.80" font-size="10" font-weight="bold" text-anchor="middle" fill="#000" >60</text>
<line x1="647.28" y1="471.20" x2="647.28" y2="475.20" stroke="#1e1e1e" stroke-width="1.3"/>
<text x="647.28" y="485.80" font-size="10" font-weight="bold" text-anchor="middle" fill="#000" >80</text>
<text x="444.00" y="498.60" font-size="10.2" font-weight="bold" text-anchor="start" fill="#000" >Intra-Tumoral Plasma Cells Per mm<tspan font-size="7.6" dy="-4.2">2</tspan><tspan dy="4.2"> of Tumor Bed</tspan></text>
<text transform="translate(451.00,386.40) rotate(-90)" x="0" y="0" font-size="10.2" font-weight="bold" text-anchor="middle" fill="#000">Lymphoid Aggregates Per mm<tspan font-size="7" dy="-4">2</tspan></text>
<line x1="489.00" y1="315.70" x2="499.60" y2="315.70" stroke="#0f5499" stroke-width="1.6"/>
<circle cx="494.10" cy="315.70" r="2.8" fill="#0f5499"/>
<text x="503.80" y="319.40" font-size="10.1" font-weight="normal" text-anchor="start" fill="#111" >Intra-Tumoral</text>
<text x="492.80" y="346.80" font-size="12.7" font-weight="normal" text-anchor="start" fill="#000" >N=18</text>
<text x="587.00" y="436.70" font-size="10" font-weight="normal" text-anchor="start" fill="#1f62a8" >P&lt;0.001</text>
<circle cx="555.70" cy="335.80" r="2.95" fill="#0f5499"/>
<circle cx="548.40" cy="352.60" r="2.95" fill="#0f5499"/>
<circle cx="597.00" cy="380.90" r="2.95" fill="#0f5499"/>
<circle cx="549.00" cy="388.50" r="2.95" fill="#0f5499"/>
<circle cx="508.10" cy="396.80" r="2.95" fill="#0f5499"/>
<circle cx="524.90" cy="409.30" r="2.95" fill="#0f5499"/>
<circle cx="549.90" cy="410.30" r="2.95" fill="#0f5499"/>
<circle cx="514.30" cy="423.20" r="2.95" fill="#0f5499"/>
<circle cx="498.90" cy="426.60" r="2.95" fill="#0f5499"/>
<circle cx="508.30" cy="432.00" r="2.95" fill="#0f5499"/>
<circle cx="533.60" cy="430.90" r="2.95" fill="#0f5499"/>
<circle cx="545.50" cy="433.00" r="2.95" fill="#0f5499"/>
<circle cx="497.90" cy="451.70" r="2.95" fill="#0f5499"/>
<circle cx="486.70" cy="454.60" r="2.95" fill="#0f5499"/>
<circle cx="501.60" cy="459.00" r="2.95" fill="#0f5499"/>
<circle cx="499.70" cy="467.10" r="2.95" fill="#0f5499"/>
<circle cx="489.10" cy="471.40" r="2.95" fill="#0f5499"/>
<circle cx="623.00" cy="317.70" r="2.95" fill="#0f5499"/>
<line x1="487.70" y1="452.80" x2="623.40" y2="321.20" stroke="#0f5499" stroke-width="1.6"/>
</svg>
</body></html>
